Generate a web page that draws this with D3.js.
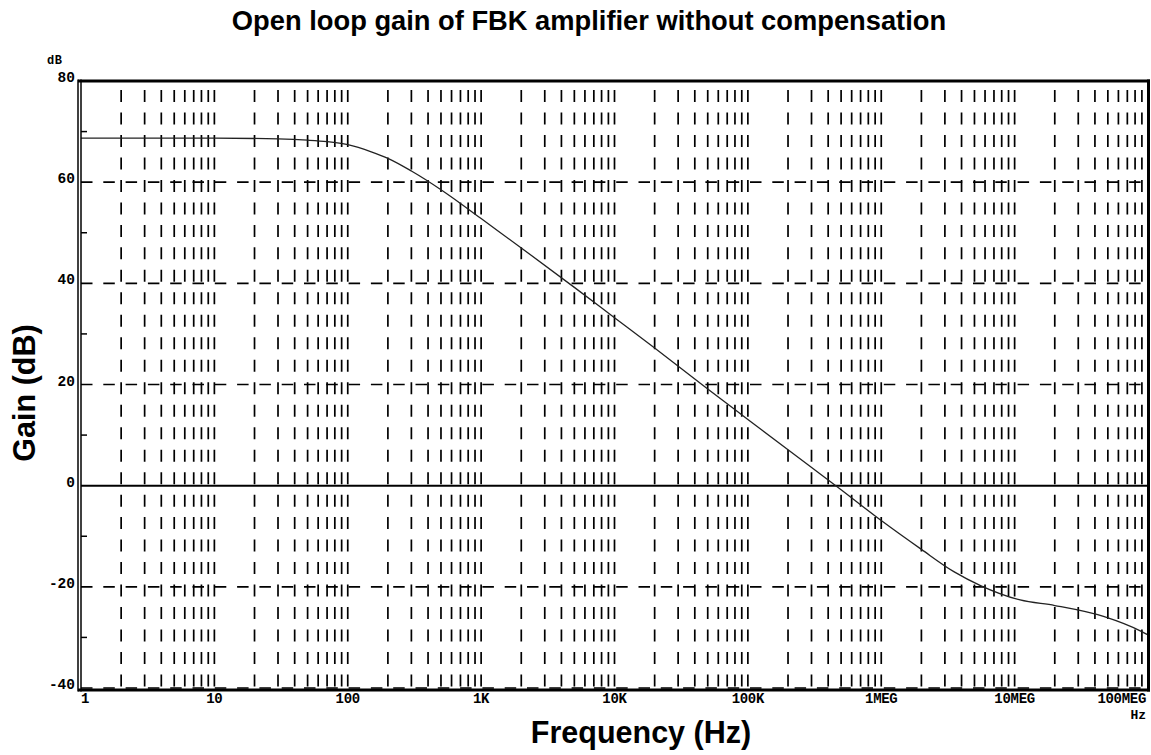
<!DOCTYPE html>
<html>
<head>
<meta charset="utf-8">
<script src="https://cdn.jsdelivr.net/npm/d3@7"></script>
<style>
  html, body { margin: 0; padding: 0; background: #fff; }
  svg { display: block; }
</style>
</head>
<body>
<svg id="chart" width="1151" height="755"></svg>
<script>
// ---- data ----
const freqHz = [1, 10, 30, 50, 70, 100, 150, 200, 300, 500, 700, 1e3, 2e3, 5e3, 1e4, 2e4, 5e4, 1e5, 2e5, 5e5, 1e6, 2e6, 3.5e6, 5.6e6, 1.1e7, 2e7, 4.7e7, 8.9e7, 1e8];
const gainDb = [68.7, 68.7, 68.55, 68.3, 68.0, 67.4, 66.0, 64.7, 62.2, 58.5, 55.8, 52.8, 47.0, 39.2, 33.2, 27.2, 19.1, 13.1, 7.1, -0.8, -6.9, -12.6, -17.0, -19.8, -22.6, -23.7, -25.9, -28.8, -29.5];
const xTickValues = [1, 10, 100, 1e3, 1e4, 1e5, 1e6, 1e7, 1e8];
const xTickLabels = ["1", "10", "100", "1K", "10K", "100K", "1MEG", "10MEG", "100MEG"];
const yTickValues = [80, 60, 40, 20, 0, -20, -40];
const yTickLabels = ["80", "60", "40", "20", "0", "-20", "-40"];
const yMinorTicks = [70, 50, 30, 10, -10, -30];
const gridDb = [60, 40, 20, -20, -40];
const titleText = "Open loop gain of FBK amplifier without compensation";
const xTitle = "Frequency (Hz)";
const yTitle = "Gain (dB)";

// ---- layout ----
const L = 81, R = 1148, T = 81, B = 688;
const svg = d3.select("#chart");
const x = d3.scaleLog().domain([1, 1e8]).range([L, R]);
const y = d3.scaleLinear().domain([-40, 80]).range([B, T]);
const monoFont = "'Liberation Mono', 'DejaVu Sans Mono', monospace";
const sansFont = "'Liberation Sans', Arial, sans-serif";

// vertical dashed grid (1..9 x 10^k)
const vgrid = [];
for (let k = 0; k < 8; k++) for (let m = 1; m <= 9; m++) {
  const v = m * Math.pow(10, k);
  if (v > 1) vgrid.push(v);
}
const period = (B - T) / 27;
svg.append("g").selectAll("line").data(vgrid).join("line")
  .attr("x1", d => x(d)).attr("x2", d => x(d))
  .attr("y1", T).attr("y2", B)
  .attr("stroke", "#000").attr("stroke-width", 1.7)
  .attr("stroke-dasharray", `12,${(period - 12).toFixed(2)}`)
  .attr("stroke-dashoffset", (period - 9).toFixed(2));

// horizontal dashed grid
svg.append("g").selectAll("line").data(gridDb).join("line")
  .attr("x1", L).attr("x2", R)
  .attr("y1", d => y(d)).attr("y2", d => y(d))
  .attr("stroke", "#000").attr("stroke-width", 1.6)
  .attr("stroke-dasharray", "11.5,10.8");

// zero line
svg.append("line")
  .attr("x1", L).attr("x2", R).attr("y1", y(0)).attr("y2", y(0))
  .attr("stroke", "#000").attr("stroke-width", 2);

// minor y ticks
svg.append("g").selectAll("line").data(yMinorTicks).join("line")
  .attr("x1", L).attr("x2", L + 6)
  .attr("y1", d => y(d)).attr("y2", d => y(d))
  .attr("stroke", "#000").attr("stroke-width", 1.5);

// curve
const line = d3.line().x(d => x(d[0])).y(d => y(d[1])).curve(d3.curveMonotoneX);
svg.append("path")
  .datum(freqHz.map((f, i) => [f, gainDb[i]]))
  .attr("d", line)
  .attr("fill", "none").attr("stroke", "#222").attr("stroke-width", 1.3);

// frame
svg.append("line").attr("x1", L - 3).attr("x2", R + 2).attr("y1", T).attr("y2", T)
  .attr("stroke", "#000").attr("stroke-width", 3);
svg.append("line").attr("x1", R + 0.5).attr("x2", R + 0.5).attr("y1", T - 1.5).attr("y2", B + 3.5)
  .attr("stroke", "#000").attr("stroke-width", 3);
svg.append("line").attr("x1", L - 3).attr("x2", R + 2).attr("y1", B + 2).attr("y2", B + 2)
  .attr("stroke", "#000").attr("stroke-width", 3);
svg.append("line").attr("x1", L - 3).attr("x2", L - 3).attr("y1", T - 1.5).attr("y2", B + 3.5)
  .attr("stroke", "#000").attr("stroke-width", 1.5);
svg.append("line").attr("x1", L).attr("x2", L).attr("y1", T - 1.5).attr("y2", B + 3.5)
  .attr("stroke", "#000").attr("stroke-width", 1.5);

// y tick labels
svg.append("g").selectAll("text").data(yTickValues).join("text")
  .attr("x", L - 6).attr("y", d => y(d) + 1)
  .attr("text-anchor", "end")
  .attr("font-family", monoFont).attr("font-weight", "bold").attr("font-size", 14.5)
  .text((d, i) => yTickLabels[i]);

// x tick labels
svg.append("g").selectAll("text").data(xTickValues).join("text")
  .attr("x", (d, i) => i === 0 ? x(d) : (i === xTickValues.length - 1 ? R - 2 : x(d)))
  .attr("y", 703)
  .attr("text-anchor", (d, i) => i === 0 ? "start" : (i === xTickValues.length - 1 ? "end" : "middle"))
  .attr("font-family", monoFont).attr("font-weight", "bold").attr("font-size", 14)
  .attr("letter-spacing", -0.3)
  .text((d, i) => xTickLabels[i]);

// units
svg.append("text").attr("x", 47).attr("y", 64)
  .attr("font-family", monoFont).attr("font-weight", "bold").attr("font-size", 12)
  .attr("letter-spacing", 0.5)
  .text("dB");
svg.append("text").attr("x", 1146).attr("y", 719).attr("text-anchor", "end")
  .attr("font-family", monoFont).attr("font-weight", "bold").attr("font-size", 13)
  .text("Hz");

// titles
svg.append("text").attr("x", 589).attr("y", 30).attr("text-anchor", "middle")
  .attr("font-family", sansFont).attr("font-weight", "bold").attr("font-size", 27.3)
  .text(titleText);
svg.append("text").attr("x", 641).attr("y", 743).attr("text-anchor", "middle")
  .attr("font-family", sansFont).attr("font-weight", "bold").attr("font-size", 30.5)
  .text(xTitle);
svg.append("text")
  .attr("transform", "translate(35,393) rotate(-90)")
  .attr("text-anchor", "middle")
  .attr("font-family", sansFont).attr("font-weight", "bold").attr("font-size", 30.5)
  .text(yTitle);
</script>
</body>
</html>
